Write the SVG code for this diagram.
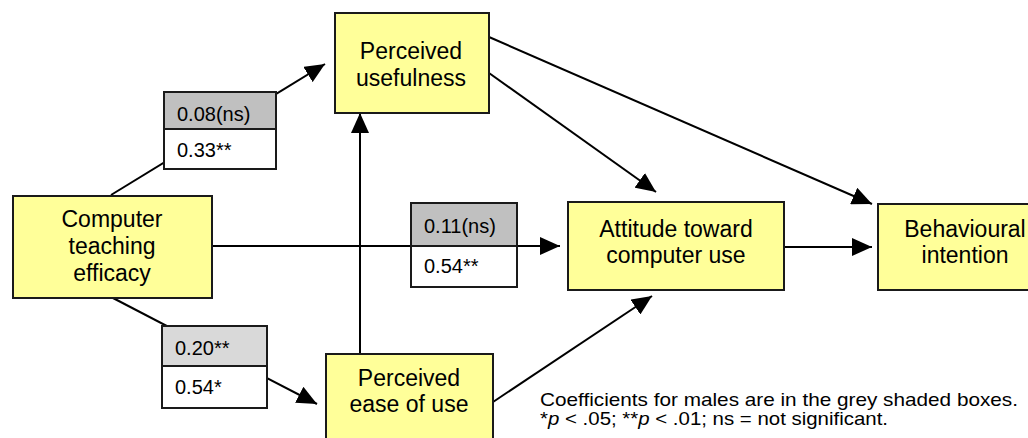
<svg xmlns="http://www.w3.org/2000/svg" width="1028" height="438" viewBox="0 0 1028 438">
<style>
.node{fill:#ffff99;stroke:#1a1a1a;stroke-width:2}
.lab{font-family:"Liberation Sans",Arial,sans-serif;font-size:23px;fill:#000;text-anchor:middle}
.coef{font-family:"Liberation Sans",Arial,sans-serif;font-size:20px;fill:#000}
.cbox{stroke:#1a1a1a;stroke-width:2}
.g1{fill:#c0c0c0}
.g2{fill:#d9d9d9}
.w{fill:#ffffff}
.ln{stroke:#000;stroke-width:2;fill:none}
.arr{marker-end:url(#ah)}
.note{font-family:"Liberation Sans",Arial,sans-serif;font-size:19px;fill:#000}
</style>
<defs>
<marker id="ah" markerUnits="userSpaceOnUse" markerWidth="20" markerHeight="18" refX="20" refY="9" orient="auto" viewBox="0 0 20 18">
<path d="M0,0 L20,9 L0,18 z" fill="#000"/>
</marker>
</defs>
<rect width="1028" height="438" fill="#ffffff"/>
<g id="connectors">
<line class="ln arr" x1="111" y1="195" x2="325" y2="64"/>
<line class="ln arr" x1="113" y1="298" x2="317" y2="404"/>
<line class="ln arr" x1="212" y1="246" x2="560" y2="246"/>
<line class="ln arr" x1="360" y1="354" x2="360" y2="113"/>
<line class="ln arr" x1="489" y1="73" x2="656" y2="192"/>
<line class="ln arr" x1="489" y1="37" x2="872" y2="204"/>
<line class="ln arr" x1="784" y1="247" x2="872" y2="247"/>
<line class="ln arr" x1="493" y1="402" x2="652" y2="296"/>
</g>
<g id="coef-cte-pu">
<rect class="cbox g1" x="164" y="92" width="112" height="37"/>
<rect class="cbox w" x="164" y="129" width="112" height="40"/>
<text class="coef" x="177" y="121">0.08(ns)</text>
<text class="coef" x="177" y="157">0.33**</text>
</g>
<g id="coef-cte-peou">
<rect class="cbox g2" x="162" y="326" width="105" height="40"/>
<rect class="cbox w" x="162" y="366" width="105" height="42"/>
<text class="coef" x="175" y="355">0.20**</text>
<text class="coef" x="175" y="394">0.54*</text>
</g>
<g id="coef-cte-atcu">
<rect class="cbox g1" x="411" y="203" width="106" height="43"/>
<rect class="cbox w" x="411" y="246" width="106" height="41"/>
<text class="coef" x="424" y="233">0.11(ns)</text>
<text class="coef" x="424" y="273">0.54**</text>
</g>
<g id="node-pu">
<rect class="node" x="335" y="13" width="154" height="100"/>
<text class="lab" x="411" y="59">Perceived</text>
<text class="lab" x="411" y="86">usefulness</text>
</g>
<g id="node-cte">
<rect class="node" x="13" y="196" width="199" height="102"/>
<text class="lab" x="112" y="227">Computer</text>
<text class="lab" x="112" y="254">teaching</text>
<text class="lab" x="112" y="281">efficacy</text>
</g>
<g id="node-atcu">
<rect class="node" x="568" y="202" width="216" height="88"/>
<text class="lab" x="676" y="237">Attitude toward</text>
<text class="lab" x="676" y="263">computer use</text>
</g>
<g id="node-bi">
<rect class="node" x="878" y="204" width="174" height="86"/>
<text class="lab" x="965" y="237">Behavioural</text>
<text class="lab" x="965" y="263">intention</text>
</g>
<g id="node-peou">
<rect class="node" x="326" y="354" width="167" height="100"/>
<text class="lab" x="409" y="386">Perceived</text>
<text class="lab" x="409" y="412">ease of use</text>
</g>
<g id="footnote">
<text class="note" x="540" y="406" textLength="478" lengthAdjust="spacingAndGlyphs">Coefficients for males are in the grey shaded boxes.</text>
<text class="note" x="540" y="425" textLength="348" lengthAdjust="spacingAndGlyphs">*<tspan font-style="italic">p</tspan> &lt; .05; **<tspan font-style="italic">p</tspan> &lt; .01; ns = not significant.</text>
</g>
</svg>
